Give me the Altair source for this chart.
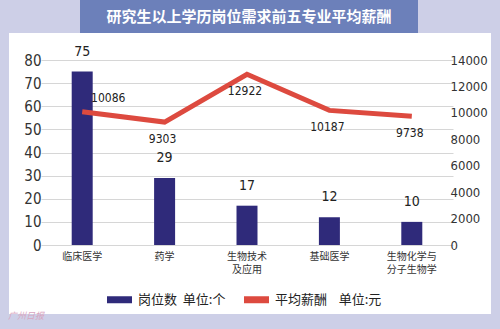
import altair as alt
import pandas as pd

# ---- data ----
categories = ["临床医学", "药学", "生物技术\n及应用", "基础医学", "生物化学与\n分子生物学"]
jobs = [75, 29, 17, 12, 10]
salary = [10086, 9303, 12922, 10187, 9738]
jobs_label = "岗位数\u00a0\u00a0单位:个"
salary_label = "平均薪酬\u00a0\u00a0\u00a0\u00a0单位:元"
title_text = "研究生以上学历岗位需求前五专业平均薪酬"
left_ticks = [0, 10, 20, 30, 40, 50, 60, 70, 80]
right_ticks = [0, 2000, 4000, 6000, 8000, 10000, 12000, 14000]

df = pd.DataFrame({"cat": categories, "jobs": jobs, "salary": salary})
deco = pd.DataFrame({"k": [0]})

BAR = "#2f2a7a"
RED = "#dd4a3f"
LAV = "#cdcfe7"
BANNER = "#6c80ba"
NUM_FONT = "Liberation Sans Narrow, Arial Narrow, DejaVu Sans Condensed, sans-serif"
CJK = "Noto Sans CJK SC"

xenc = alt.X("cat:N", sort=categories, title=None,
             scale=alt.Scale(range=[-4, 408], paddingInner=0, paddingOuter=0),
             axis=alt.Axis(labelExpr="split(datum.label, '\\n')", labelAngle=0,
                           labelFont=CJK, labelFontSize=10, labelColor="#333333",
                           labelPadding=6, labelLineHeight=13.5, labelBaseline="top",
                           domain=False, ticks=False, grid=False))

color_scale = alt.Scale(domain=[jobs_label, salary_label], range=[BAR, RED])
legend = alt.Legend(title=None, orient="none", legendX=62, legendY=227,
                    direction="horizontal",
                    symbolType="M-1,-0.28H1V0.28H-1Z", symbolSize=625,
                    symbolStrokeWidth=0, labelFont=CJK, labelFontSize=13,
                    labelColor="#222222", columnPadding=18, labelOffset=6,
                    padding=0)

# decorations (frame + banner + title)
def rect(x, x2, y, y2, color):
    return alt.Chart(deco).mark_rect(color=color).encode(
        x=alt.value(x), x2=alt.value(x2), y=alt.value(y), y2=alt.value(y2))

frame = alt.layer(
    rect(-45, 455, -60, -27, LAV),
    rect(-45, -36, -60, 269, LAV),
    rect(446, 455, -60, 269, LAV),
    rect(-45, 455, 254, 269, LAV),
    rect(35, 373, -60, -27, BANNER),
    alt.Chart(deco).mark_text(text=title_text, font=CJK, fontSize=15, fontWeight="bold",
                              color="white", align="center", baseline="middle").encode(
        x=alt.value(204), y=alt.value(-43)),
    alt.Chart(deco).mark_text(text="广州日报", font=CJK, fontSize=9, fontStyle="italic",
                              color="#d9a6c0", align="left").encode(
        x=alt.value(-37), y=alt.value(256)),
)

yl = alt.Y("jobs:Q", title=None,
           scale=alt.Scale(domain=[0, 80], nice=False),
           axis=alt.Axis(orient="left", values=left_ticks, grid=True, format="d",
                         gridColor="#d6d6d6", domain=False, ticks=False,
                         labelFont=NUM_FONT, labelFontSize=15, labelColor="#333333",
                         labelPadding=4))

bars = alt.Chart(df).mark_bar(size=21).encode(
    x=xenc, y=yl, color=alt.Color("s:N", scale=color_scale, legend=legend)
).transform_calculate(s=f"'{jobs_label}'")

bar_text = alt.Chart(df).mark_text(dy=-20, font=NUM_FONT, fontSize=14,
                                   color="#222222").encode(
    x=xenc, y=yl, text="jobs:Q")

left = alt.layer(bars, bar_text)

yr = alt.Y("salary:Q", title=None,
           scale=alt.Scale(domain=[0, 14000], nice=False),
           axis=alt.Axis(orient="right", values=right_ticks, grid=False, format="d",
                         domain=False, ticks=False, labelFont=NUM_FONT,
                         labelFontSize=13, labelColor="#333333", labelPadding=5))

line = alt.Chart(df).mark_line(strokeWidth=5).encode(
    x=xenc, y=yr, color=alt.Color("s:N", scale=color_scale, legend=legend)
).transform_calculate(s=f"'{salary_label}'")

first = categories[0]
line_text_a = alt.Chart(df).transform_filter(
    alt.datum.cat == first).mark_text(dx=26, dy=-14, font=NUM_FONT, fontSize=12,
                                      color="#222222").encode(
    x=xenc, y=yr, text=alt.Text("salary:Q", format="d"))
line_text_b = alt.Chart(df).transform_filter(
    alt.datum.cat != first).mark_text(dx=-2, dy=17, font=NUM_FONT, fontSize=12,
                                      color="#222222").encode(
    x=xenc, y=yr, text=alt.Text("salary:Q", format="d"))

right = alt.layer(line, line_text_a, line_text_b)

chart = alt.layer(frame, left, right).resolve_scale(y="independent").properties(
    width=400, height=185,
    autosize=alt.AutoSizeParams(type="none"),
    padding={"left": 45, "top": 60, "right": 55, "bottom": 84},
    background="white",
).configure_view(stroke=None)

chart.save("out.html", embed_options={"renderer": "svg", "actions": False})
